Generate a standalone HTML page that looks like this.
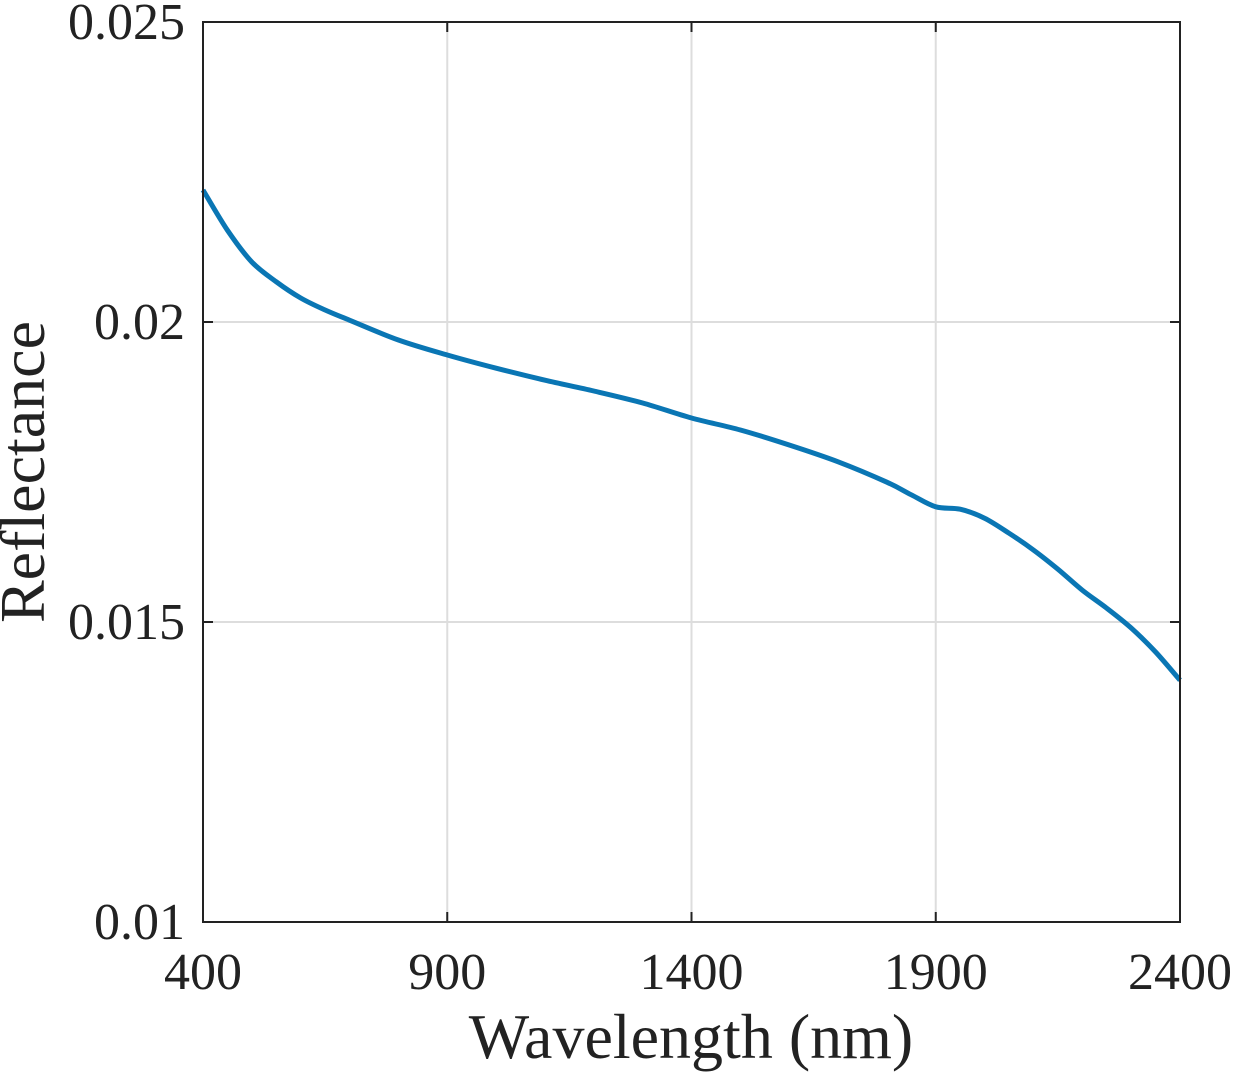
<!DOCTYPE html>
<html><head><meta charset="utf-8"><style>
html,body{margin:0;padding:0;background:#fff;width:1236px;height:1080px;overflow:hidden}
svg text{font-family:"Liberation Serif",serif;fill:#222}
</style></head><body>
<svg id="chart" width="1236" height="1080" xmlns="http://www.w3.org/2000/svg">
<g id="grid"></g>
<g id="marks"></g>
<rect x="203" y="22" width="977" height="900" fill="none" stroke="#222" stroke-width="2"/>
<g id="ticks"></g>
<text x="691" y="1058" font-size="64" text-anchor="middle">Wavelength (nm)</text>
<text transform="translate(44,472) rotate(-90)" font-size="64" text-anchor="middle">Reflectance</text>
</svg>
<script>
const wavelengths=[400,450,500,550,600,650,700,800,900,1000,1100,1200,1300,1400,1500,1600,1700,1800,1850,1900,1950,2000,2050,2100,2150,2200,2250,2300,2350,2400];
const reflectance=[0.0222,0.02153,0.0210,0.02067,0.0204,0.0202,0.02003,0.0197,0.01945,0.01923,0.01903,0.01885,0.01865,0.0184,0.0182,0.01795,0.01767,0.01733,0.01712,0.01692,0.01688,0.01673,0.01648,0.0162,0.01588,0.01553,0.01523,0.0149,0.0145,0.01403];
const xTicks=[400,900,1400,1900,2400];
const yTicks=[0.01,0.015,0.02,0.025];
const yTickLabels=["0.01","0.015","0.02","0.025"];
const X0=203,X1=1180,Y0=922,Y1=22;
const xs=v=>X0+(v-400)/2000*(X1-X0);
const ys=v=>Y0-(v-0.01)/0.015*(Y0-Y1);
const NS="http://www.w3.org/2000/svg";
const grid=document.getElementById('grid'),ticks=document.getElementById('ticks'),marks=document.getElementById('marks');
function mk(tag,attrs,parent){const e=document.createElementNS(NS,tag);for(const k in attrs)e.setAttribute(k,attrs[k]);parent.appendChild(e);return e;}
xTicks.forEach(t=>{
  const x=xs(t);
  const g=mk('line',{x1:x,x2:x,y1:Y1,y2:Y0,stroke:'#ddd','stroke-width':2},grid);
  
  
  const a=mk('line',{x1:x,x2:x,y1:Y0,y2:Y0-10,stroke:'#222','stroke-width':2},ticks);
  
  
  const b=mk('line',{x1:x,x2:x,y1:Y1,y2:Y1+10,stroke:'#222','stroke-width':2},ticks);
  
  
  const l=mk('text',{x:x,y:989,'font-size':52,'text-anchor':'middle'},ticks);
  l.textContent=t;
  
  
});
yTicks.forEach((t,i)=>{
  const y=ys(t);
  const g=mk('line',{x1:X0,x2:X1,y1:y,y2:y,stroke:'#ddd','stroke-width':2},grid);
  
  
  const a=mk('line',{x1:X0,x2:X0+10,y1:y,y2:y,stroke:'#222','stroke-width':2},ticks);
  
  
  const b=mk('line',{x1:X1,x2:X1-10,y1:y,y2:y,stroke:'#222','stroke-width':2},ticks);
  
  
  const l=mk('text',{x:185,y:y+17,'font-size':52,'text-anchor':'end'},ticks);
  l.textContent=yTickLabels[i];
  
  
});
const pts=wavelengths.map((w,i)=>[xs(w),ys(reflectance[i])]);
let d='M'+pts[0][0].toFixed(1)+','+pts[0][1].toFixed(1);
for(let i=0;i<pts.length-1;i++){
  const p0=pts[Math.max(0,i-1)],p1=pts[i],p2=pts[i+1],p3=pts[Math.min(pts.length-1,i+2)];
  const c1=[p1[0]+(p2[0]-p0[0])/6,p1[1]+(p2[1]-p0[1])/6];
  const c2=[p2[0]-(p3[0]-p1[0])/6,p2[1]-(p3[1]-p1[1])/6];
  d+='C'+c1[0].toFixed(1)+','+c1[1].toFixed(1)+' '+c2[0].toFixed(1)+','+c2[1].toFixed(1)+' '+p2[0].toFixed(1)+','+p2[1].toFixed(1);
}
const p=mk('path',{d:d,fill:'none',stroke:'#0a76b4','stroke-width':5,'stroke-linejoin':'round'},marks);


</script>
</body></html>
